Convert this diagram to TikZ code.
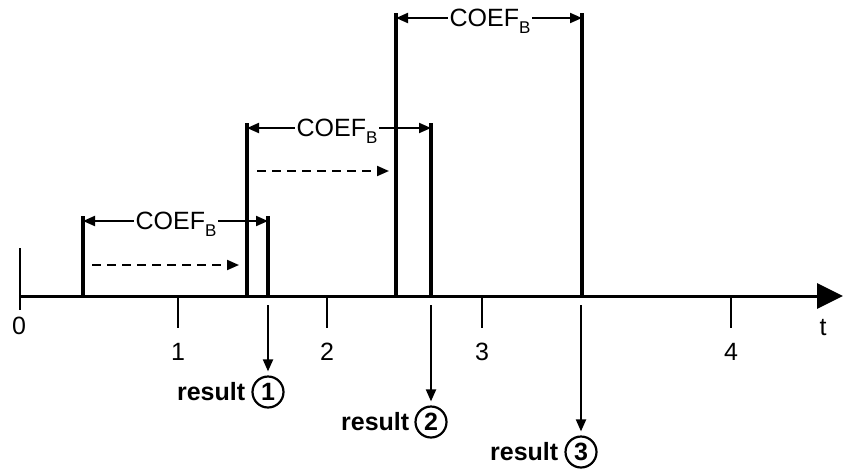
\documentclass[tikz,border=0pt]{standalone}
\usepackage{fontspec}
\setmainfont{Liberation Sans}
\usetikzlibrary{arrows.meta}
\newcommand{\bigfont}{\fontsize{25}{25}\selectfont}
\newcommand{\coefB}{COEF\raisebox{-7pt}{\fontsize{17}{17}\selectfont B}}
\begin{document}
\begin{tikzpicture}[x=1pt,y=-1pt,
  axisline/.style={line width=3pt,-{Triangle[length=26pt,width=25pt]}},
  pulseline/.style={line width=4pt},
  tickline/.style={line width=2pt},
  dimline/.style={line width=2pt,-{Triangle[length=12pt,width=10pt]}},
  dashline/.style={line width=2pt,dash pattern=on 9pt off 6pt,-{Triangle[length=12pt,width=10pt]}},
  resline/.style={line width=2pt,-{Triangle[length=12pt,width=10pt]},shorten >=4pt},
  numlabel/.style={font=\bigfont,inner sep=0pt},
  coeflabel/.style={font=\bigfont,inner sep=1.5pt,anchor=base},
  rescircle/.style={draw,circle,line width=2.2pt,minimum size=31pt,inner sep=0pt,font=\bigfont\bfseries},
  restext/.style={font=\bigfont\bfseries,inner sep=0pt,anchor=east}]
\useasboundingbox (0,0) rectangle (843,472);

% axis
\coordinate (o) at (20,296);
\coordinate (tend) at (843,296);
\draw[axisline] (o) -- (tend);

% ticks
\coordinate (t0a) at (20,248); \coordinate (t0b) at (20,310);
\draw[tickline] (t0a) -- (t0b);
\foreach \n/\x in {1/178,2/327,3/482,4/731}{
  \coordinate (t\n a) at (\x,296); \coordinate (t\n b) at (\x,328);
  \draw[tickline] (t\n a) -- (t\n b);
  \node[numlabel] (n\n) at (\x,352) {\n};
}
\node[numlabel] (n0) at (19,326) {0};
\node[numlabel] (tl) at (823,328) {t};

% pulse 1
\coordinate (p1lb) at (83,296); \coordinate (p1lt) at (83,216);
\coordinate (p1rb) at (268,296); \coordinate (p1rt) at (268,216);
\draw[pulseline] (p1lb) -- (p1lt);
\draw[pulseline] (p1rb) -- (p1rt);
\node[coeflabel] (c1) at (176,229) {\coefB};
\coordinate (d1l) at (83,221); \coordinate (d1r) at (268,221);
\draw[dimline] (c1.west |- d1l) -- (d1l);
\draw[dimline] (c1.east |- d1r) -- (d1r);
\coordinate (s1a) at (92,265); \coordinate (s1b) at (239,265);
\draw[dashline] (s1a) -- (s1b);

% pulse 2
\coordinate (p2lb) at (247,296); \coordinate (p2lt) at (247,123);
\coordinate (p2rb) at (431,296); \coordinate (p2rt) at (431,123);
\draw[pulseline] (p2lb) -- (p2lt);
\draw[pulseline] (p2rb) -- (p2rt);
\node[coeflabel] (c2) at (337,136) {\coefB};
\coordinate (d2l) at (247,128); \coordinate (d2r) at (431,128);
\draw[dimline] (c2.west |- d2l) -- (d2l);
\draw[dimline] (c2.east |- d2r) -- (d2r);
\coordinate (s2a) at (257,171); \coordinate (s2b) at (389,171);
\draw[dashline] (s2a) -- (s2b);

% pulse 3
\coordinate (p3lb) at (396,296); \coordinate (p3lt) at (396,13);
\coordinate (p3rb) at (582,296); \coordinate (p3rt) at (582,13);
\draw[pulseline] (p3lb) -- (p3lt);
\draw[pulseline] (p3rb) -- (p3rt);
\node[coeflabel] (c3) at (490,26) {\coefB};
\coordinate (d3l) at (396,18); \coordinate (d3r) at (582,18);
\draw[dimline] (c3.west |- d3l) -- (d3l);
\draw[dimline] (c3.east |- d3r) -- (d3r);

% results
\node[rescircle] (r1) at (268,392) {1};
\node[rescircle] (r2) at (431,422) {2};
\node[rescircle] (r3) at (581,452) {3};
\node[restext] (rt1) at ([xshift=-6pt]r1.west) {result};
\node[restext] (rt2) at ([xshift=-5pt]r2.west) {result};
\node[restext] (rt3) at ([xshift=-6pt]r3.west) {result};
\coordinate (a1) at (268,305);
\coordinate (a2) at (431,305);
\coordinate (a3) at (581,305);
\draw[resline] (a1) -- (r1.north);
\draw[resline] (a2) -- (r2.north);
\draw[resline] (a3) -- (r3.north);
\end{tikzpicture}
\end{document}
